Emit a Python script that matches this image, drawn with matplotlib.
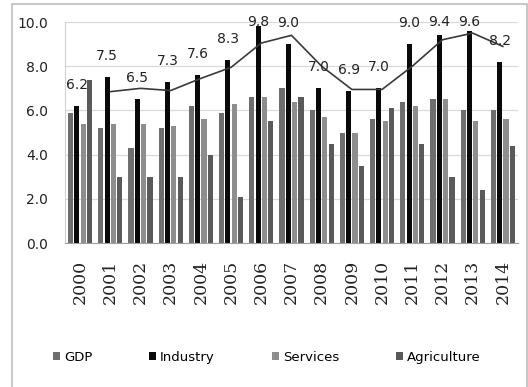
import numpy as np
import matplotlib.pyplot as plt
from matplotlib.patches import Rectangle

# dados
anos = ['2000', '2001', '2002', '2003', '2004', '2005', '2006', '2007',
        '2008', '2009', '2010', '2011', '2012', '2013', '2014']
gdp = [5.9, 5.2, 4.3, 5.2, 6.2, 5.9, 6.6, 7.0, 6.0, 5.0, 5.6, 6.4, 6.5, 6.0, 6.0]
industry = [6.2, 7.5, 6.5, 7.3, 7.6, 8.3, 9.8, 9.0, 7.0, 6.9, 7.0, 9.0, 9.4, 9.6, 8.2]
services = [5.4, 5.4, 5.4, 5.3, 5.6, 6.3, 6.6, 6.4, 5.7, 5.0, 5.5, 6.2, 6.5, 5.5, 5.6]
agriculture = [7.4, 3.0, 3.0, 3.0, 4.0, 2.1, 5.5, 6.6, 4.5, 3.5, 6.1, 4.5, 3.0, 2.4, 4.4]
# linha de tendência (média móvel de 2 períodos da indústria), a partir de 2001
tendencia = [6.85, 7.0, 6.9, 7.45, 7.95, 9.05, 9.4, 8.0, 6.95, 6.95, 8.0, 9.2, 9.5, 8.9]

series = [('GDP', gdp, '#6e6e6e'),
          ('Industry', industry, '#0a0a0a'),
          ('Services', services, '#8e8e8e'),
          ('Agriculture', agriculture, '#5a5a5a')]

fig = plt.figure(figsize=(5.28, 3.87), dpi=100)
ax = fig.add_axes([0.123, 0.372, 0.858, 0.571])

x = np.arange(len(anos))
passo = 0.21
larg = 0.17
for i, (nome, vals, cor) in enumerate(series):
    ax.bar(x + (i - 1.5) * passo, vals, width=larg, color=cor, label=nome, zorder=2)

ax.plot(x[1:], tendencia, color='#3a3a3a', lw=1.2, zorder=3)

# rótulos da indústria
for xi, v in zip(x, industry):
    ax.text(xi - 0.5 * passo, min(v + 0.95, 10.0), f'{v:.1f}', ha='center', va='center',
            fontsize=10, color='#222222', zorder=4)

ax.set_ylim(0, 10)
ax.set_xlim(-0.5, len(anos) - 0.5)
ax.set_yticks(np.arange(0, 10.1, 2))
ax.set_yticklabels([f'{t:.1f}' for t in np.arange(0, 10.1, 2)], fontsize=10, color='#222222')
ax.set_xticks(x)
ax.set_xticklabels(anos, rotation=90, fontsize=12.5, family='DejaVu Serif', color='#222222')
ax.tick_params(length=0)
ax.tick_params(axis='x', pad=12)
ax.tick_params(axis='y', pad=12)
ax.grid(axis='y', color='#d9d9d9', lw=0.9, zorder=0)
ax.set_axisbelow(True)
for s in ['top', 'right']:
    ax.spines[s].set_visible(False)
ax.spines['left'].set_color('#d0d0d0')
ax.spines['bottom'].set_color('#a0a0a0')

leg = fig.legend(loc='center', bbox_to_anchor=(0.505, 0.077), ncol=4, frameon=False,
                 fontsize=9.5, handlelength=0.55, handleheight=0.55, handletextpad=0.3,
                 columnspacing=4.3)

# moldura do gráfico
fig.patches.append(Rectangle((12 / 528, -0.1), (527 - 12) / 528, 1.1 - 4 / 387,
                             transform=fig.transFigure, fill=False,
                             edgecolor='#c8c8c8', lw=1.5))

fig.savefig('out.png', dpi=100)
